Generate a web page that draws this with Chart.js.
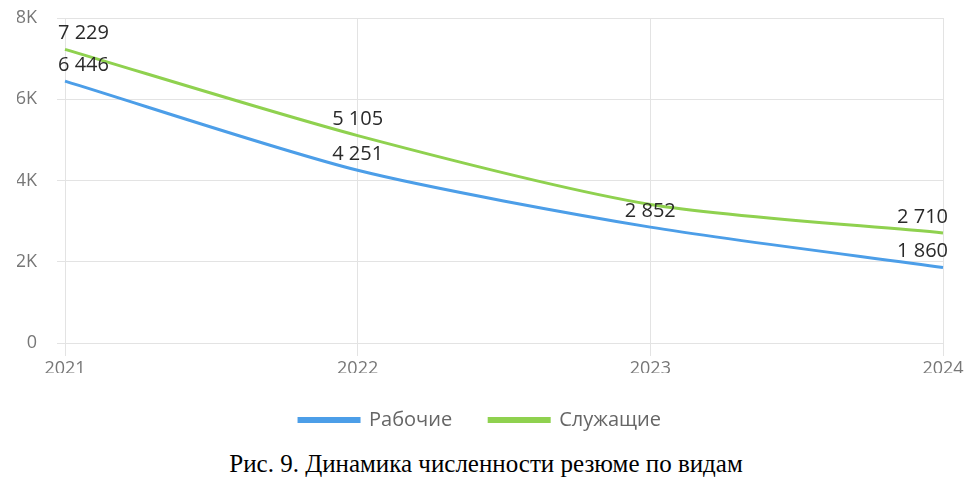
<!DOCTYPE html>
<html><head><meta charset="utf-8">
<script src="https://cdn.jsdelivr.net/npm/chart.js@4.4.1/dist/chart.umd.min.js"></script>
<style>
html,body{margin:0;padding:0;background:#fff;}
#wrap{position:relative;width:972px;height:440px;}
#cap{position:absolute;left:0;top:449px;width:972px;text-align:center;font-family:"Liberation Serif","Times New Roman",serif;font-size:25px;line-height:30px;color:#000;}
</style></head><body>
<div id="wrap"><canvas id="c" width="972" height="440"></canvas></div>
<div id="cap">Рис. 9. Динамика численности резюме по видам</div>
<script>
const categories = ["2021","2022","2023","2024"];
const workers = [6446, 4251, 2852, 1860];
const employees = [7229, 5105, 3410, 2710];
const workersLabelShown = [true, true, true, true];
const employeesLabelShown = [true, true, false, true];
const yTicks = [0, 2000, 4000, 6000, 8000];

function fmt(v){ return String(v).replace(/\B(?=(\d{3})+(?!\d))/g, " "); }

const labelPlugin = {
  id: 'vlabels',
  afterDatasetsDraw(chart){
    const ctx = chart.ctx;
    ctx.save();
    ctx.font = '20px "Open Sans", sans-serif';
    ctx.fillStyle = '#2a2a2a';
    ctx.textAlign = 'center';
    ctx.textBaseline = 'middle';
    chart.data.datasets.forEach((ds, di) => {
      const meta = chart.getDatasetMeta(di);
      meta.data.forEach((pt, i) => {
        if (!ds.showLabels[i]) return;
        let x = pt.x;
        const txt = fmt(ds.data[i]);
        const w = ctx.measureText(txt).width;
        const ca = chart.chartArea;
        if (x + w/2 > ca.right + 5) x = ca.right + 5 - w/2;
        if (x - w/2 < ca.left - 7) x = ca.left - 7 + w/2;
        ctx.fillText(txt, x, pt.y - 16);
      });
    });
    ctx.restore();
  }
};

const gridColor = '#e3e3e3';

new Chart(document.getElementById('c'), {
  type: 'line',
  data: {
    labels: categories,
    datasets: [
      {label: 'Рабочие', data: workers, showLabels: workersLabelShown, borderColor: '#4c9ee8', backgroundColor: '#4c9ee8', borderWidth: 3, pointRadius: 0, tension: 0.25},
      {label: 'Служащие', data: employees, showLabels: employeesLabelShown, borderColor: '#8fd14f', backgroundColor: '#8fd14f', borderWidth: 3, pointRadius: 0, tension: 0.25}
    ]
  },
  options: {
    responsive: false,
    animation: false,
    layout: {padding: {left: 17, right: 29, top: 18, bottom: 0}},
    plugins: {
      legend: {
        position: 'bottom',
        labels: {boxWidth: 60, boxHeight: 3, padding: 37, color: '#666', font: {family: '"Open Sans", sans-serif', size: 20}}
      },
      tooltip: {enabled: false}
    },
    scales: {
      x: {
        grid: {color: gridColor, drawTicks: true, tickLength: 13, tickColor: gridColor},
        border: {display: false},
        ticks: {color: '#777', font: {family: '"Open Sans", sans-serif', size: 18}, padding: 2, maxRotation: 0},
        afterFit(s){ s.height = 30; s.paddingLeft = 0; s.paddingRight = 0; }
      },
      y: {
        min: 0, max: 8000,
        afterBuildTicks(s){ s.ticks = yTicks.map(v => ({value: v})); },
        grid: {color: gridColor, drawTicks: true, tickLength: 8, tickColor: gridColor},
        border: {display: false},
        ticks: {color: '#777', font: {family: '"Open Sans", sans-serif', size: 18}, padding: 20,
          callback: v => v === 0 ? '0' : (v/1000) + 'K'},
        afterFit(s){ s.width = 48; s.paddingTop = 0; s.paddingBottom = 0; }
      }
    }
  },
  plugins: [labelPlugin]
});
</script>
</body></html>
